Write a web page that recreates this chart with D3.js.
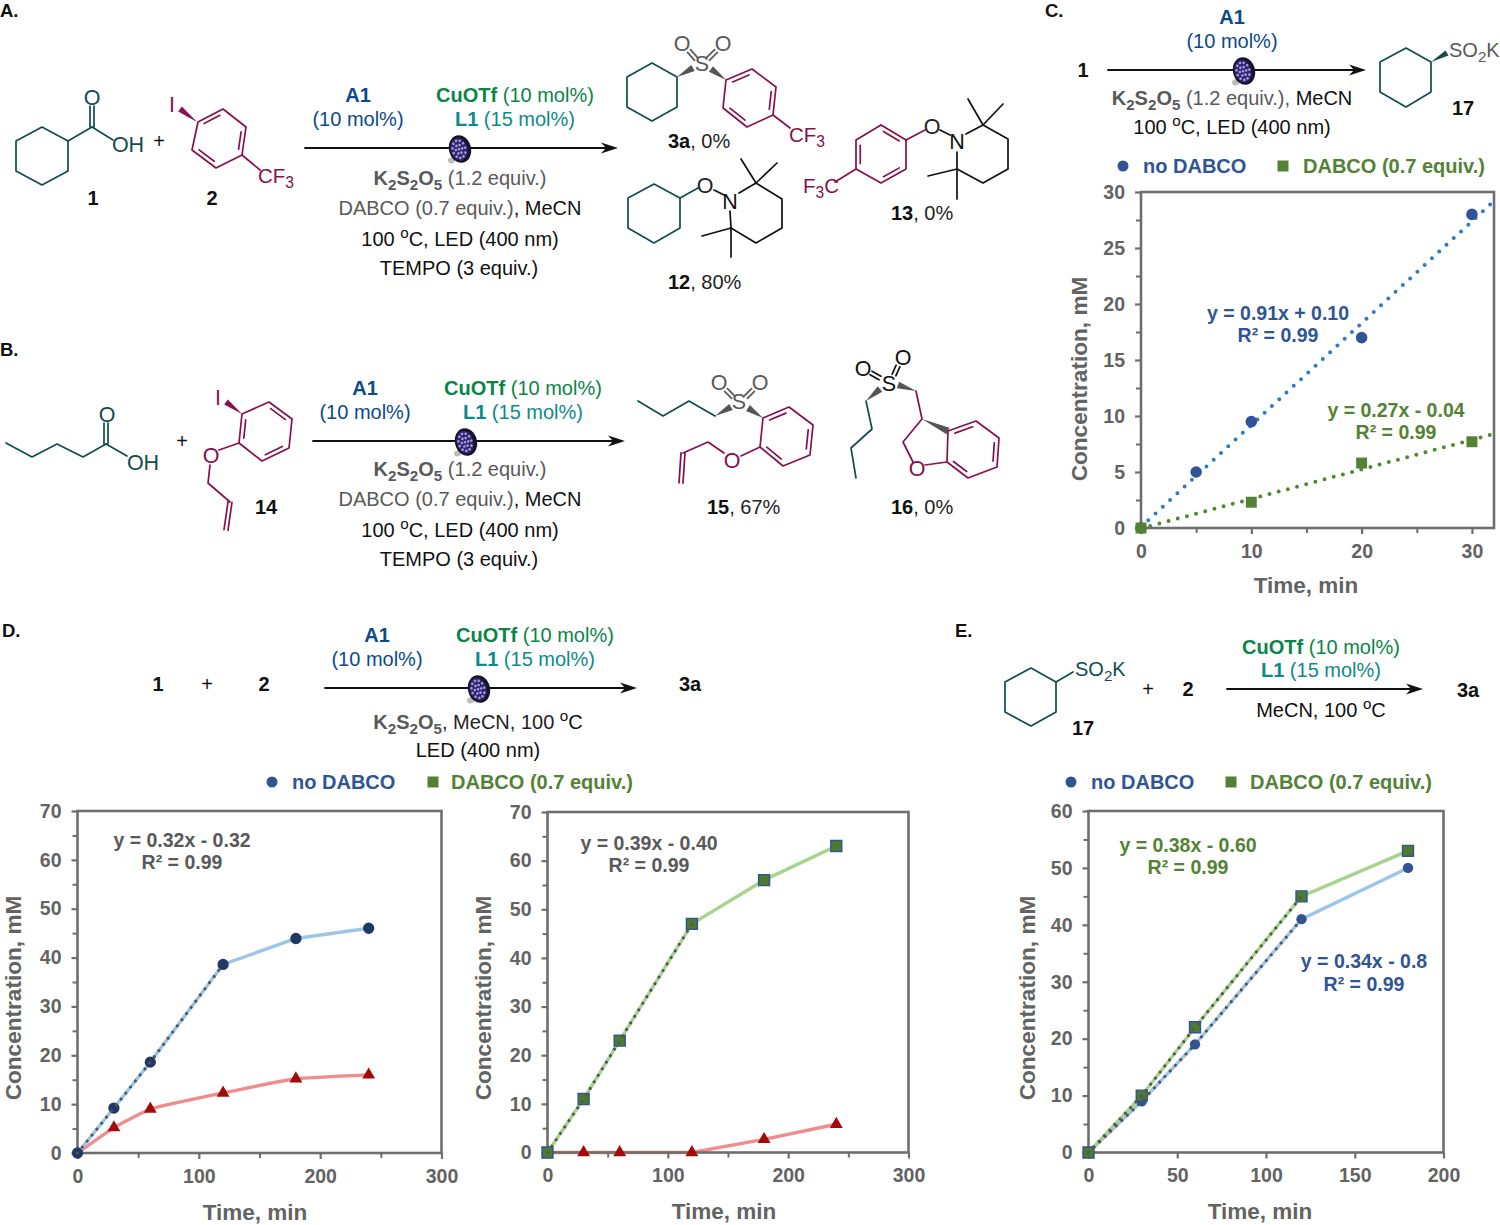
<!DOCTYPE html>
<html><head><meta charset="utf-8">
<script src="https://cdnjs.cloudflare.com/ajax/libs/d3/7.8.5/d3.min.js"></script>
<style>html,body{margin:0;padding:0;background:#fff}svg{display:block}text{font-family:"Liberation Sans",Arial,sans-serif}</style>
</head><body><svg id="fig" width="1500" height="1225"></svg>
<script>
// ---------- chart data ----------
const timeC = [0, 5, 10, 20, 30];
const noDabcoC = [0, 5, 9.5, 17, 28];
const timeCgreen = [0, 10, 20, 30];
const dabcoC = [0, 2.3, 5.8, 7.7];
const trendTimeC = [0, 32];
const trendNoDabcoC = [0.1, 29.2];
const trendDabcoC = [-0.04, 8.4];

const timeD = [0, 30, 60, 120, 180, 240];
const productD1 = [0, 9.2, 18.6, 38.6, 43.9, 46];
const byproductD1 = [0, 5.2, 9, 12.3, 15.2, 16];
const productD2 = [0, 11, 23, 47, 56, 63];
const byproductD2 = [0, 0, 0, 0, 2.7, 5.8];

const timeE = [0, 30, 60, 120, 180];
const noDabcoE = [0, 9, 19, 41, 50];
const dabcoE = [0, 10, 22, 45, 53];

const yTicksC = [0, 5, 10, 15, 20, 25, 30];
const xTicksC = [0, 10, 20, 30];
const yMinorC = [2.5, 7.5, 12.5, 17.5, 22.5, 27.5];
const xMinorC = [5, 15, 25];
const yTicksD = [0, 10, 20, 30, 40, 50, 60, 70];
const xTicksD = [0, 100, 200, 300];
const yMinorD = [5, 15, 25, 35, 45, 55, 65];
const xMinorD = [50, 150, 250];
const yTicksE = [0, 10, 20, 30, 40, 50, 60];
const xTicksE = [0, 50, 100, 150, 200];
const yMinorE = [5, 15, 25, 35, 45, 55];

const xTitle = "Time, min", yTitle = "Concentration, mM";
const legendNo = "no DABCO", legendYes = "DABCO (0.7 equiv.)";

// ---------- palette ----------
const TEAL = "#0f4d4f", MAROON = "#87104d", GREY = "#595959", BLACK = "#111";
const A1C = "#0c4a8c", CUC = "#0a8548", L1C = "#0d8a8a";
const LB = "#2f5597", LG = "#548235";
const svg = d3.select("#fig");
const lineGen = d3.line();

// ---------- text helper ----------
function T(x, y, parts, o = {}) {
  const size = o.size || 20;
  const t = svg.append("text").attr("x", x).attr("y", y).attr("font-size", size)
    .attr("text-anchor", o.anchor || "middle");
  if (o.rotate) t.attr("transform", `rotate(${o.rotate} ${x} ${y})`);
  if (typeof parts === "string") parts = [[parts]];
  let shift = 0;
  parts.forEach(p => {
    const [s, st = {}] = p;
    const target = st.sub ? 5 : st.sup ? -8 : 0;
    t.append("tspan").text(s).attr("fill", st.c || o.c || BLACK)
      .attr("font-weight", (st.b ?? o.b) ? "bold" : "normal")
      .attr("font-size", st.sub || st.sup ? size * 0.76 : size)
      .attr("dy", target - shift);
    shift = target;
  });
  return t;
}
const Atom = (x, y, s, c) => T(x, y, s, { c, size: 21.5 });

// ---------- molecule helpers ----------
function bond(pts, color, w = 1.7) {
  svg.append("path").attr("d", lineGen(pts)).attr("fill", "none")
    .attr("stroke", color).attr("stroke-width", w).attr("stroke-linejoin", "round").attr("stroke-linecap", "round");
}
function ring(pts, color, doubles = []) {
  bond([...pts, pts[0]], color);
  const c = d3.polygonCentroid(pts);
  doubles.forEach(i => {
    const a = pts[i], b = pts[(i + 1) % pts.length];
    const sh = p => [p[0] + (c[0] - p[0]) * .17, p[1] + (c[1] - p[1]) * .17];
    const a2 = sh(a), b2 = sh(b);
    const f = .12;
    bond([[a2[0] + (b2[0] - a2[0]) * f, a2[1] + (b2[1] - a2[1]) * f], [b2[0] - (b2[0] - a2[0]) * f, b2[1] - (b2[1] - a2[1]) * f]], color);
  });
}
function wedge(a, b, color, w = 6) {
  const dx = b[0] - a[0], dy = b[1] - a[1], L = Math.hypot(dx, dy), nx = -dy / L * w / 2, ny = dx / L * w / 2;
  svg.append("path").attr("d", lineGen([[a[0], a[1]], [b[0] + nx, b[1] + ny], [b[0] - nx, b[1] - ny]]) + "Z").attr("fill", color);
}
function dbl(a, b, color, off = 2.3) {
  const dx = b[0] - a[0], dy = b[1] - a[1], L = Math.hypot(dx, dy), nx = -dy / L * off, ny = dx / L * off;
  bond([[a[0] + nx, a[1] + ny], [b[0] + nx, b[1] + ny]], color);
  bond([[a[0] - nx, a[1] - ny], [b[0] - nx, b[1] - ny]], color);
}
function arrow(x0, x1, y) {
  bond([[x0, y], [x1 - 8, y]], "#111", 1.8);
  svg.append("path").attr("d", lineGen([[x1, y], [x1 - 17, y - 5.5], [x1 - 12, y], [x1 - 17, y + 5.5]]) + "Z").attr("fill", "#111");
}
function lamp(cx, cy) {
  const g = svg.append("g").attr("transform", `translate(${cx + 1},${cy + 1}) rotate(-14)`);
  g.append("ellipse").attr("cx", -11).attr("cy", 9).attr("rx", 3.5).attr("ry", 3).attr("fill", "#bdbdb8");
  g.append("ellipse").attr("cx", 0).attr("cy", 0).attr("rx", 11).attr("ry", 14).attr("fill", "#14142a");
  g.append("ellipse").attr("cx", -1).attr("cy", 0).attr("rx", 8.5).attr("ry", 11.5).attr("fill", "#2f2668");
  [[0, 1], [.42, 6], [.82, 11]].forEach(([f, n]) => d3.range(n).forEach(i => {
    const an = i / n * 2 * Math.PI;
    g.append("circle").attr("cx", -1 + Math.cos(an) * 7.8 * f).attr("cy", Math.sin(an) * 10.8 * f).attr("r", 1.35).attr("fill", "#a595e6");
  }));
}

// ---------- panel letters ----------
[["A.", 0, 17], ["B.", 0, 356], ["C.", 1045, 17], ["D.", 2, 637], ["E.", 955, 637]]
  .forEach(([s, x, y]) => T(x, y, s, { anchor: "start", b: true, size: 18.5 }));

// ---------- reusable condition texts ----------
const k2 = [["K", { b: 1, c: GREY }], ["2", { b: 1, sub: 1, c: GREY }], ["S", { b: 1, c: GREY }], ["2", { b: 1, sub: 1, c: GREY }], ["O", { b: 1, c: GREY }], ["5", { b: 1, sub: 1, c: GREY }]];
const hundred = [["100 "], ["o", { sup: 1 }], ["C, LED (400 nm)"]];
function catalysts(ax, cx, y1, y2) {
  if (ax !== null) {
    T(ax, y1, [["A1", { b: 1, c: A1C }]]);
    T(ax, y2, [["(10 mol%)", { c: A1C }]]);
  }
  T(cx, y1, [["CuOTf", { b: 1, c: CUC }], [" (10 mol%)", { c: CUC }]]);
  T(cx, y2, [["L1", { b: 1, c: L1C }], [" (15 mol%)", { c: L1C }]]);
}
function fullConditions(cx, y0) {
  T(cx, y0, [...k2, [" (1.2 equiv.)", { c: GREY }]]);
  T(cx, y0 + 30, [["DABCO (0.7 equiv.)", { c: GREY }], [", MeCN"]]);
  T(cx, y0 + 61, hundred);
  T(cx - 1, y0 + 90, "TEMPO (3 equiv.)");
}
const cyhex = (p) => ring(p, TEAL);
const G5 = "#555";

// ---------- scheme A ----------
cyhex([[16, 141], [42, 127], [68, 141], [68, 171], [42, 185], [16, 171]]);
bond([[68, 141], [92, 127]], TEAL); dbl([92, 127], [92, 106], TEAL, 2); bond([[92, 127], [113, 140]], TEAL);
Atom(92, 105, "O", TEAL); Atom(128, 152, "OH", TEAL);
T(159, 148, "+"); T(93, 205, "1", { b: 1 }); T(212, 205, "2", { b: 1 });
ring([[198, 122], [223, 109], [246, 127], [242, 155], [216, 168], [192, 150]], MAROON, [0, 2, 4]);
Atom(172, 112, "I", MAROON); wedge([197, 122], [180, 109], MAROON, 6);
bond([[242, 155], [260, 170]], MAROON);
T(258, 183, [["CF", { c: MAROON }], ["3", { sub: 1, c: MAROON }]], { anchor: "start", size: 20.5 });
arrow(305, 618, 148); lamp(459, 148);
catalysts(358, 515, 102, 126);
fullConditions(460, 185);

// 3a
cyhex([[627, 77], [652, 63], [677, 77], [677, 107], [652, 121], [627, 107]]);
wedge([677, 77], [693, 68], G5, 7);
Atom(702, 71, "S", GREY); Atom(682, 51, "O", GREY); Atom(723, 51, "O", GREY);
dbl([689, 51], [696, 59], GREY, 2); dbl([716, 51], [708, 59], GREY, 2);
wedge([726, 80], [711, 69], G5, 7);
ring([[726, 80], [752, 69], [776, 87], [773, 115], [747, 127], [723, 108]], MAROON, [0, 2, 4]);
bond([[773, 115], [790, 128]], MAROON);
T(789, 142, [["CF", { c: MAROON }], ["3", { sub: 1, c: MAROON }]], { anchor: "start", size: 20.5 });
T(668, 148, [["3a", { b: 1 }], [", 0%", { c: "#222" }]], { anchor: "start" });

// 12
cyhex([[628, 198], [654, 184], [680, 198], [680, 228], [654, 243], [628, 228]]);
bond([[680, 198], [698, 188]], TEAL);
Atom(705, 193, "O", "#222"); bond([[714, 190], [724, 195]], "#111");
Atom(730, 209, "N", "#111");
bond([[739, 193], [756, 183], [782, 199], [782, 228], [756, 243], [731, 228], [730, 211]], "#111");
bond([[756, 183], [741, 159]], "#111"); bond([[756, 183], [777, 163]], "#111");
bond([[731, 228], [702, 236]], "#111"); bond([[731, 228], [731, 257]], "#111");
T(668, 289, [["12", { b: 1 }], [", 80%", { c: "#222" }]], { anchor: "start" });

// 13
ring([[881, 125], [906, 140], [906, 169], [881, 183], [856, 169], [856, 140]], MAROON, [0, 2, 4]);
bond([[906, 140], [925, 130]], MAROON);
Atom(932, 134, "O", "#222"); bond([[940, 130], [950, 135]], "#111");
Atom(957, 149, "N", "#111");
bond([[966, 134], [983, 125], [1008, 139], [1008, 169], [983, 183], [957, 169], [957, 152]], "#111");
bond([[983, 125], [968, 99]], "#111"); bond([[983, 125], [1003, 104]], "#111");
bond([[957, 169], [928, 176]], "#111"); bond([[957, 169], [957, 199]], "#111");
bond([[856, 169], [835, 182]], MAROON);
T(803, 193, [["F", { c: MAROON }], ["3", { sub: 1, c: MAROON }], ["C", { c: MAROON }]], { anchor: "start", size: 20.5 });
T(891, 220, [["13", { b: 1 }], [", 0%", { c: "#222" }]], { anchor: "start" });

// ---------- scheme B ----------
bond([[6, 443], [32, 457], [57, 444], [83, 457], [106, 444]], TEAL);
dbl([106, 444], [106, 423], TEAL, 2); bond([[106, 444], [127, 456]], TEAL);
Atom(107, 422, "O", TEAL); Atom(143, 470, "OH", TEAL);
T(182, 448, "+");
ring([[242, 414], [269, 402], [292, 419], [289, 448], [262, 461], [239, 443]], MAROON, [1, 3, 5]);
Atom(218, 405, "I", MAROON); wedge([242, 414], [226, 402], MAROON, 6);
bond([[239, 443], [219, 450]], MAROON); Atom(211, 463, "O", MAROON);
bond([[210, 465], [208, 483], [230, 502]], MAROON); dbl([230, 502], [226, 530], MAROON, 2);
T(266, 514, "14", { b: 1 });
arrow(313, 625, 441); lamp(465, 441);
catalysts(365, 523, 395, 419);
fullConditions(460, 476);

// 15
bond([[638, 401], [663, 416], [689, 401], [715, 416]], TEAL);
wedge([715, 416], [731, 407], G5, 7);
Atom(739, 409, "S", GREY); Atom(719, 390, "O", GREY); Atom(760, 390, "O", GREY);
dbl([726, 390], [733, 397], GREY, 2); dbl([753, 390], [746, 397], GREY, 2);
wedge([763, 418], [748, 408], G5, 7);
ring([[763, 418], [789, 407], [813, 425], [810, 455], [783, 466], [760, 447]], MAROON, [0, 2, 4]);
bond([[760, 447], [741, 456]], MAROON); Atom(732, 468, "O", MAROON);
bond([[724, 453], [708, 442], [683, 453]], MAROON); dbl([683, 453], [681, 483], MAROON, 2);
T(707, 514, [["15", { b: 1 }], [", 67%", { c: "#222" }]], { anchor: "start" });

// 16
Atom(889, 391, "S", BLACK); Atom(863, 376, "O", BLACK); Atom(903, 365, "O", BLACK);
dbl([871, 373], [880, 378], "#111", 2); dbl([898, 366], [894, 375], "#111", 2);
wedge([866, 401], [880, 389], G5, 7);
bond([[866, 401], [872, 429], [851, 448], [856, 478]], TEAL);
wedge([916, 391], [898, 385], G5, 7);
bond([[916, 391], [922, 419], [903, 442], [913, 462]], MAROON);
wedge([922, 419], [948, 431], G5, 7);
Atom(917, 476, "O", MAROON); bond([[925, 465], [947, 462]], MAROON);
ring([[948, 431], [976, 421], [999, 438], [997, 467], [968, 478], [947, 462]], MAROON, [0, 2, 4]);
T(891, 514, [["16", { b: 1 }], [", 0%", { c: "#222" }]], { anchor: "start" });

// ---------- scheme C ----------
T(1083, 77, "1", { b: 1 }); arrow(1108, 1366, 70); lamp(1243, 70);
T(1232, 24, [["A1", { b: 1, c: A1C }]]); T(1232, 48, [["(10 mol%)", { c: A1C }]]);
T(1232, 105, [...k2, [" (1.2 equiv.),", { c: GREY }], ["  MeCN"]]);
T(1232, 134, hundred);
cyhex([[1380, 62], [1406, 48], [1431, 62], [1431, 92], [1406, 107], [1380, 92]]);
wedge([1431, 62], [1447, 53], TEAL, 6);
T(1449, 57, [["SO", { c: GREY }], ["2", { sub: 1, c: GREY }], ["K", { c: GREY }]], { anchor: "start", size: 20 });
T(1463, 115, "17", { b: 1 });

// ---------- scheme D ----------
T(158, 691, "1", { b: 1 }); T(207, 691, "+"); T(264, 691, "2", { b: 1 });
arrow(325, 637, 688); lamp(478, 688);
catalysts(377, 535, 642, 666);
T(478, 729, [...k2, [", MeCN, 100 ", { c: "#222" }], ["o", { sup: 1 }], ["C"]]);
T(478, 757, "LED (400 nm)");
T(690, 691, "3a", { b: 1 });

// ---------- scheme E ----------
cyhex([[1005, 682], [1031, 668], [1056, 682], [1056, 712], [1031, 726], [1005, 712]]);
bond([[1056, 682], [1073, 672]], TEAL);
T(1075, 676, [["SO", { c: TEAL }], ["2", { sub: 1, c: TEAL }], ["K", { c: TEAL }]], { anchor: "start" });
T(1083, 735, "17", { b: 1 }); T(1148, 696, "+"); T(1188, 696, "2", { b: 1 });
arrow(1227, 1423, 689);
catalysts(null, 1321, 654, 677);
T(1321, 717, [["MeCN, 100 "], ["o", { sup: 1 }], ["C"]]);
T(1468, 697, "3a", { b: 1 });

// ---------- legends ----------
function legend(cx, tx1, sx, tx2, y) {
  svg.append("circle").attr("cx", cx).attr("cy", y).attr("r", 5.5).attr("fill", LB);
  T(tx1, y + 7, legendNo, { anchor: "start", b: true, c: LB });
  svg.append("rect").attr("x", sx - 5.5).attr("y", y - 5.5).attr("width", 11).attr("height", 11).attr("fill", LG);
  T(tx2, y + 7, legendYes, { anchor: "start", b: true, c: LG });
}
legend(1123, 1143, 1283, 1303, 166);
legend(272, 292, 433, 451, 782);
legend(1071, 1091, 1231, 1250, 782);

// ---------- charts ----------
const AXC = "#6e6e6e", TXT = "#636363";
function chart(c) {
  const x = d3.scaleLinear().domain(c.xDomain).range([c.left, c.right]);
  const y = d3.scaleLinear().domain(c.yDomain).range([c.bottom, c.top]);
  const g = svg.append("g");
  const ln = d3.line().x(d => x(d[0])).y(d => y(d[1]));
  (c.lines || []).forEach(l => {
    g.append("path").attr("d", d3.line().x(d => x(d[0])).y(d => y(d[1])).curve(l.curve || d3.curveLinear)(d3.zip(l.xs, l.ys)))
      .attr("fill", "none").attr("stroke", l.color).attr("stroke-width", 3.4);
  });
  const drawTrend = t => g.append("path").attr("d", ln(d3.zip(t.xs, t.ys))).attr("fill", "none").attr("stroke", t.color)
      .attr("stroke-width", t.w || 4).attr("stroke-linecap", "round").attr("stroke-dasharray", `0 ${t.gap || 9.9}`);
  (c.trends || []).filter(t => t.under).forEach(drawTrend);
  g.append("rect").attr("x", c.left).attr("y", c.top).attr("width", c.right - c.left).attr("height", c.bottom - c.top)
    .attr("fill", "none").attr("stroke", AXC).attr("stroke-width", 2.6);
  const axY = g.append("g").attr("transform", `translate(${c.left},0)`)
    .call(d3.axisLeft(y).tickValues(c.yTicks).tickSize(6).tickPadding(10).tickFormat(d3.format("d")));
  const axX = g.append("g").attr("transform", `translate(0,${c.bottom})`)
    .call(d3.axisBottom(x).tickValues(c.xTicks).tickSize(6).tickPadding(c.xPad).tickFormat(d3.format("d")));
  [axX, axY].forEach(a => {
    a.select(".domain").remove();
    a.selectAll("line").attr("stroke", AXC).attr("stroke-width", 2.2);
    a.selectAll("text").attr("fill", TXT).attr("font-size", 19.5).attr("font-weight", "bold").attr("font-family", '"Liberation Sans",Arial,sans-serif');
  });
  if (c.yMinor) {
    const m = g.append("g").attr("transform", `translate(${c.left},0)`).call(d3.axisLeft(y).tickValues(c.yMinor).tickSize(5).tickFormat(""));
    m.select(".domain").remove(); m.selectAll("line").attr("stroke", AXC).attr("stroke-width", 2);
  }
  if (c.xMinor) {
    const m = g.append("g").attr("transform", `translate(0,${c.bottom})`).call(d3.axisBottom(x).tickValues(c.xMinor).tickSize(5).tickFormat(""));
    m.select(".domain").remove(); m.selectAll("line").attr("stroke", AXC).attr("stroke-width", 2);
  }
  (c.marks || []).forEach(m => {
    const sym = d3.symbol().type(m.type).size(m.size);
    g.selectAll(null).data(d3.zip(m.xs, m.ys)).enter().append("path")
      .attr("d", sym()).attr("transform", d => `translate(${x(d[0])},${y(d[1])})`)
      .attr("fill", m.fill).attr("stroke", m.stroke || "none").attr("stroke-width", m.stroke ? 1.4 : 0);
  });
  (c.trends || []).filter(t => !t.under).forEach(drawTrend);
  T(c.xTitleX, c.xTitleY, xTitle, { size: 22.5, b: true, c: TXT });
  T(c.yTitleX, c.yTitleY, yTitle, { size: 22.6, b: true, c: TXT, rotate: -90 });
  (c.notes || []).forEach(n => T(n[0], n[1], n[2], { size: 19.5, b: true, c: n[3] }));
}
const R2 = "R² = 0.99";
const NAVY = "#1f3864", DRED = "#a50a0a", MGRN = "#4c7a2e", DOT = "#555";
const LBLUE = "#9cc5ea", LGREEN = "#a6d48c", PINK = "#f08c8c";
const TRI = 72, softCurve = d3.curveCardinal.tension(0.7);
const dotted = { color: DOT, w: 3.2, gap: 7.7 };

chart({ left: 1141, right: 1494, top: 192, bottom: 528, xDomain: [0, 32], yDomain: [0, 30],
  yTicks: yTicksC, xTicks: xTicksC, yMinor: yMinorC, xMinor: xMinorC, xPad: 10,
  xTitleX: 1306, xTitleY: 593, yTitleX: 1087, yTitleY: 379,
  trends: [{ xs: trendTimeC, ys: trendNoDabcoC, color: "#2e7cc4", under: 1 }, { xs: trendTimeC, ys: trendDabcoC, color: "#4e8a2e", under: 1, gap: 9.5 }],
  marks: [{ xs: timeC, ys: noDabcoC, type: d3.symbolCircle, size: 105, fill: LB }, { xs: timeCgreen, ys: dabcoC, type: d3.symbolSquare, size: 120, fill: LG }],
  notes: [[1278, 320, "y = 0.91x + 0.10", LB], [1278, 342, R2, LB], [1396, 417, "y = 0.27x - 0.04", LG], [1396, 439, R2, LG]] });

chart({ left: 77.5, right: 441.5, top: 811, bottom: 1153, xDomain: [0, 300], yDomain: [0, 70],
  yTicks: yTicksD, xTicks: xTicksD, yMinor: yMinorD, xMinor: xMinorD, xPad: 10,
  xTitleX: 255, xTitleY: 1220, yTitleX: 21, yTitleY: 998,
  lines: [{ xs: timeD, ys: byproductD1, color: PINK, curve: softCurve }, { xs: timeD, ys: productD1, color: LBLUE }],
  marks: [{ xs: timeD.slice(1), ys: byproductD1.slice(1), type: d3.symbolTriangle, size: TRI, fill: DRED },
    { xs: timeD, ys: productD1, type: d3.symbolCircle, size: 100, fill: NAVY }],
  trends: [{ xs: timeD.slice(0, 4), ys: productD1.slice(0, 4), ...dotted }],
  notes: [[182, 847, "y = 0.32x - 0.32", GREY], [182, 869, R2, GREY]] });

chart({ left: 547.5, right: 908.5, top: 812, bottom: 1152.5, xDomain: [0, 300], yDomain: [0, 70],
  yTicks: yTicksD, xTicks: xTicksD, yMinor: yMinorD, xMinor: xMinorD, xPad: 10,
  xTitleX: 724, xTitleY: 1219, yTitleX: 491, yTitleY: 998,
  lines: [{ xs: timeD, ys: byproductD2, color: PINK }, { xs: timeD, ys: productD2, color: LGREEN }],
  marks: [{ xs: timeD.slice(1), ys: byproductD2.slice(1), type: d3.symbolTriangle, size: TRI, fill: DRED },
    { xs: timeD, ys: productD2, type: d3.symbolSquare, size: 120, fill: MGRN, stroke: LB }],
  trends: [{ xs: timeD.slice(0, 4), ys: productD2.slice(0, 4), ...dotted }],
  notes: [[649, 850, "y = 0.39x - 0.40", GREY], [649, 872, R2, GREY]] });

chart({ left: 1088.5, right: 1443.5, top: 811, bottom: 1152.5, xDomain: [0, 200], yDomain: [0, 60],
  yTicks: yTicksE, xTicks: xTicksE, yMinor: yMinorE, xPad: 10,
  xTitleX: 1260, xTitleY: 1219, yTitleX: 1035, yTitleY: 998,
  lines: [{ xs: timeE, ys: noDabcoE, color: LBLUE }, { xs: timeE, ys: dabcoE, color: LGREEN }],
  marks: [{ xs: timeE, ys: noDabcoE, type: d3.symbolCircle, size: 85, fill: LB },
    { xs: timeE, ys: dabcoE, type: d3.symbolSquare, size: 120, fill: MGRN, stroke: LB }],
  trends: [{ xs: timeE.slice(0, 4), ys: noDabcoE.slice(0, 4), ...dotted }, { xs: timeE.slice(0, 4), ys: dabcoE.slice(0, 4), ...dotted }],
  notes: [[1188, 852, "y = 0.38x - 0.60", LG], [1188, 874, R2, LG], [1364, 968, "y = 0.34x - 0.8", LB], [1364, 991, R2, LB]] });
</script></body></html>
